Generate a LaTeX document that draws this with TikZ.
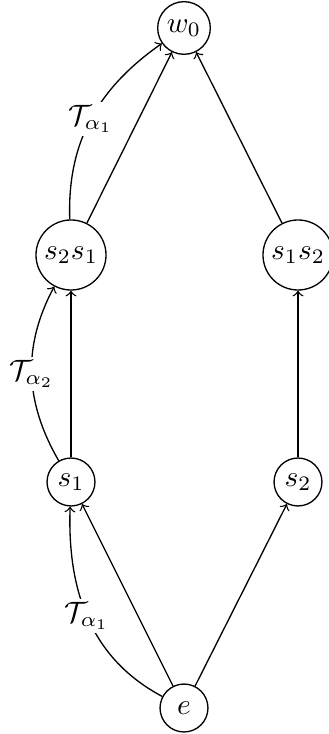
\documentclass[tikz,border=0pt]{standalone}
\begin{document}
\begin{tikzpicture}[x=0.34pt,y=-0.34pt,line width=0.45pt,
  vtx/.style={circle,draw,minimum size=16.3pt,inner sep=1.8pt},
  arr/.style={->},
  lbl/.style={fill=white,inner sep=1pt}]
\useasboundingbox (0,0) rectangle (328,734);
\node[vtx] (w0) at (184,28) {$w_0$};
\node[vtx] (s2s1) at (71,255) {$s_2s_1$};
\node[vtx] (s1s2) at (298,255) {$s_1s_2$};
\node[vtx] (s1) at (71,482) {$s_1$};
\node[vtx] (s2) at (298,482) {$s_2$};
\node[vtx] (e) at (184,708) {$e$};
\draw[arr] (e) -- (s1);
\draw[arr] (e) -- (s2);
\draw[arr] (s1) -- (s2s1);
\draw[arr] (s2) -- (s1s2);
\draw[arr] (s2s1) -- (w0);
\draw[arr] (s1s2) -- (w0);
\draw[arr] (s2s1) to[out=92,in=215] node[lbl,pos=0.5] {$\mathcal{T}_{\alpha_1}$} (w0);
\draw[arr] (s1) to[out=120,in=242] node[lbl,pos=0.5] {$\mathcal{T}_{\alpha_2}$} (s2s1);
\draw[arr] (e) to[out=152,in=268] node[lbl,pos=0.51] {$\mathcal{T}_{\alpha_1}$} (s1);
\end{tikzpicture}
\end{document}
